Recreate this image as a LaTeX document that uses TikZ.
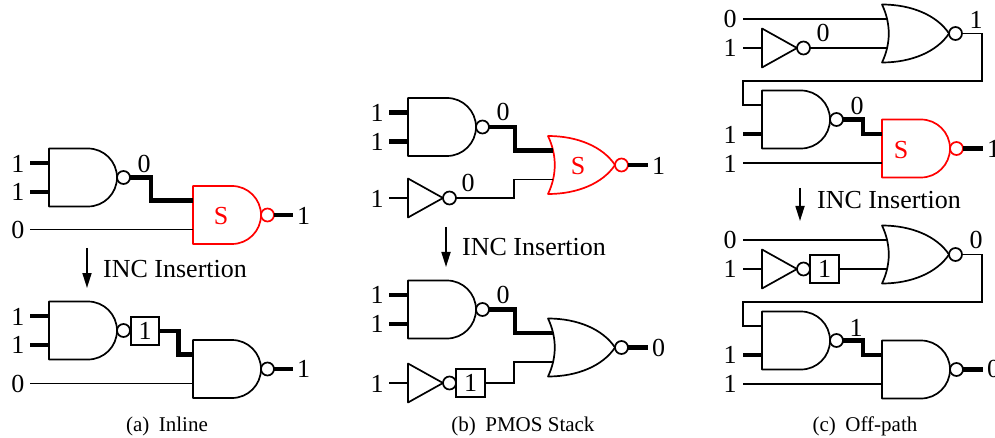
\documentclass[tikz,border=0pt]{standalone}
\usepackage{fontspec}
\setmainfont{Liberation Serif}
\usetikzlibrary{calc,arrows.meta}
\tikzset{
  lbl/.style={inner sep=0pt, font=\fontsize{26}{26}\selectfont},
  captxt/.style={inner sep=0pt, font=\fontsize{21}{21}\selectfont},
  gate/.style={line width=1.7pt, line join=round},
  wire/.style={line width=1.7pt},
  bus/.style={line width=4.8pt},
  valbox/.style={draw, line width=1.7pt, inner sep=0pt, minimum width=28pt, minimum height=28pt, font=\fontsize{26}{26}\selectfont},
  insarrow/.style={line width=1.7pt, -{Triangle[length=15pt,width=9pt]}},
  nandg/.pic={
    \draw[gate] (0,-29) -- (39,-29) .. controls (55,-29) and (68,-16) .. (68,0)
      .. controls (68,16) and (55,29) .. (39,29) -- (0,29) -- cycle;
    \draw[gate] (74.5,0) circle[radius=6.5pt];
    \coordinate (-in1) at (0,-14.5);
    \coordinate (-in2) at (0,14.5);
    \coordinate (-out) at (81,0);
  },
  norg/.pic={
    \draw[gate] (0,-29) .. controls (9,-10) and (9,10) .. (0,29)
      .. controls (30,29) and (55,18) .. (67,0)
      .. controls (55,-18) and (30,-29) .. (0,-29) -- cycle;
    \draw[gate] (73.5,0) circle[radius=6.5pt];
    \coordinate (-in1) at (5,-14.5);
    \coordinate (-in2) at (5,14.5);
    \coordinate (-out) at (80,0);
  },
  invg/.pic={
    \draw[gate] (0,-19.5) -- (35,0) -- (0,19.5) -- cycle;
    \draw[gate] (41.5,0) circle[radius=6.5pt];
    \coordinate (-in) at (0,0);
    \coordinate (-out) at (48,0);
  }
}
\begin{document}
\begin{tikzpicture}[x=1pt,y=-1pt]
\useasboundingbox (0,0) rectangle (995,438);

% ================= (a) Inline =================
\pic (aN1) at (49,177.5) {nandg};
\begin{scope}[red]
  \pic (aS) at (193,215) {nandg};
  \node[lbl] (aSt) at (221,216) {S};
\end{scope}
\coordinate (aI1) at (30,163);
\coordinate (aI2) at (30,192);
\coordinate (aI3) at (30,229.5);
\draw[bus] (aI1) -- (aN1-in1);
\draw[bus] (aI2) -- (aN1-in2);
\draw[wire] (aI3) -- (aS-in2);
\draw[bus] (aN1-out) -- ++(21,0) |- (aS-in1);
\draw[bus] (aS-out) -- ++(19,0);
\node[lbl] (aL1) at (18,164) {1};
\node[lbl] (aL2) at (18,192) {1};
\node[lbl] (aL3) at (18,230) {0};
\node[lbl] (aL4) at (144,164) {0};
\node[lbl,anchor=west] (aL5) at (297,216) {1};

\coordinate (aA1) at (87,248);
\coordinate (aA2) at (87,288);
\draw[insarrow] (aA1) -- (aA2);
\node[lbl,anchor=base west] (aT) at (103,277) {INC Insertion};

\pic (aN3) at (49,330.5) {nandg};
\node[valbox] (aB) at (145,331) {1};
\pic (aN4) at (193,369) {nandg};
\coordinate (aI4) at (30,316);
\coordinate (aI5) at (30,345);
\coordinate (aI6) at (30,383.5);
\draw[bus] (aI4) -- (aN3-in1);
\draw[bus] (aI5) -- (aN3-in2);
\draw[wire] (aI6) -- (aN4-in2);
\draw[wire] (aN3-out) -- (aB.west);
\draw[bus] (aB.east) -- ++(19,0) |- (aN4-in1);
\draw[bus] (aN4-out) -- ++(19,0);
\node[lbl] (aL6) at (18,317) {1};
\node[lbl] (aL7) at (18,345) {1};
\node[lbl] (aL8) at (18,384) {0};
\node[lbl,anchor=west] (aL9) at (297,369) {1};

\node[captxt,anchor=base] (aC) at (167,431) {(a)\hspace{0.45em}Inline};

% ================= (b) PMOS Stack =================
\pic (bN1) at (408,127) {nandg};
\begin{scope}[red]
  \pic (bS) at (548,165) {norg};
  \node[lbl] (bSt) at (578,166) {S};
\end{scope}
\pic (bI1) at (408,198) {invg};
\coordinate (bI1a) at (389,112.5);
\coordinate (bI2a) at (389,141.5);
\coordinate (bI3a) at (389,198);
\draw[bus] (bI1a) -- (bN1-in1);
\draw[bus] (bI2a) -- (bN1-in2);
\draw[wire] (bI3a) -- (bI1-in);
\draw[bus] (bN1-out) -- ++(26,0) |- (bS-in1);
\draw[wire] (bI1-out) -- ++(58,0) |- (bS-in2);
\draw[bus] (bS-out) -- ++(20,0);
\node[lbl] (bL1) at (377,113) {1};
\node[lbl] (bL2) at (377,142) {1};
\node[lbl] (bL3) at (377,199) {1};
\node[lbl] (bL4) at (503,112) {0};
\node[lbl] (bL5) at (468,183) {0};
\node[lbl,anchor=west] (bL6) at (652,166) {1};

\coordinate (bA1) at (446,227);
\coordinate (bA2) at (446,267);
\draw[insarrow] (bA1) -- (bA2);
\node[lbl,anchor=base west] (bT) at (462,255) {INC Insertion};

\pic (bN2) at (408,309.5) {nandg};
\pic (bR) at (548,347.5) {norg};
\pic (bI2) at (408,383) {invg};
\node[valbox,minimum width=29pt] (bB) at (470.5,383) {1};
\coordinate (bI4a) at (389,295);
\coordinate (bI5a) at (389,324);
\coordinate (bI6a) at (389,383);
\draw[bus] (bI4a) -- (bN2-in1);
\draw[bus] (bI5a) -- (bN2-in2);
\draw[wire] (bI6a) -- (bI2-in);
\draw[bus] (bN2-out) -- ++(26,0) |- (bR-in1);
\draw[wire] (bB.east) -- ++(28,0) |- (bR-in2);
\draw[bus] (bR-out) -- ++(20,0);
\node[lbl] (bL7) at (377,295) {1};
\node[lbl] (bL8) at (377,324) {1};
\node[lbl] (bL9) at (377,384) {1};
\node[lbl] (bL10) at (503,295) {0};
\node[lbl,anchor=west] (bL11) at (652,348) {0};

\node[captxt,anchor=base] (bC) at (523,431) {(b)\hspace{0.45em}PMOS Stack};

% ================= (c) Off-path =================
\pic (cR1) at (882,33.5) {norg};
\pic (cI1) at (762,48) {invg};
\coordinate (cI1a) at (743,19);
\coordinate (cI2a) at (743,48);
\draw[wire] (cI1a) -- (cR1-in1);
\draw[wire] (cI2a) -- (cI1-in);
\draw[wire] (cI1-out) -- (cR1-in2);
\pic (cN1) at (762,119.5) {nandg};
\coordinate (cF1) at (743,81);
\draw[wire] (cR1-out) -- ++(20,0) |- (cF1) |- (cN1-in1);
\coordinate (cI3a) at (743,134);
\draw[bus] (cI3a) -- (cN1-in2);
\begin{scope}[red]
  \pic (cS) at (882,148.5) {nandg};
  \node[lbl] (cSt) at (901,150) {S};
\end{scope}
\draw[bus] (cN1-out) -- ++(20,0) |- (cS-in1);
\coordinate (cI4a) at (743,163);
\draw[wire] (cI4a) -- (cS-in2);
\draw[bus] (cS-out) -- ++(20,0);
\node[lbl] (cL1) at (730,19) {0};
\node[lbl] (cL2) at (730,48) {1};
\node[lbl] (cL3) at (823,33) {0};
\node[lbl] (cL4) at (976,20) {1};
\node[lbl] (cL5) at (857,106) {0};
\node[lbl] (cL6) at (730,135) {1};
\node[lbl] (cL7) at (730,164) {1};
\node[lbl,anchor=west] (cL8) at (987,149) {1};

\coordinate (cA1) at (800,188);
\coordinate (cA2) at (800,221);
\draw[insarrow] (cA1) -- (cA2);
\node[lbl,anchor=base west] (cT) at (817,209) {INC Insertion};

\pic (cR2) at (882,254.5) {norg};
\pic (cI2) at (762,269) {invg};
\node[valbox,minimum width=29pt] (cB) at (824.5,269) {1};
\coordinate (cI5a) at (743,240);
\coordinate (cI6a) at (743,269);
\draw[wire] (cI5a) -- (cR2-in1);
\draw[wire] (cI6a) -- (cI2-in);
\draw[wire] (cB.east) -- (cR2-in2);
\pic (cN2) at (762,340.5) {nandg};
\coordinate (cF2) at (743,302);
\draw[wire] (cR2-out) -- ++(20,0) |- (cF2) |- (cN2-in1);
\coordinate (cI7a) at (743,355);
\draw[bus] (cI7a) -- (cN2-in2);
\pic (cN3) at (882,369.5) {nandg};
\draw[bus] (cN2-out) -- ++(20,0) |- (cN3-in1);
\coordinate (cI8a) at (743,384);
\draw[wire] (cI8a) -- (cN3-in2);
\draw[bus] (cN3-out) -- ++(20,0);
\node[lbl] (cL9) at (730,240) {0};
\node[lbl] (cL10) at (730,269) {1};
\node[lbl] (cL11) at (976,240) {0};
\node[lbl] (cL12) at (856,328) {1};
\node[lbl] (cL13) at (730,355) {1};
\node[lbl] (cL14) at (730,384) {1};
\node[lbl,anchor=west] (cL15) at (987,369) {0};

\node[captxt,anchor=base] (cC) at (865,431) {(c)\hspace{0.45em}Off-path};
\end{tikzpicture}
\end{document}
